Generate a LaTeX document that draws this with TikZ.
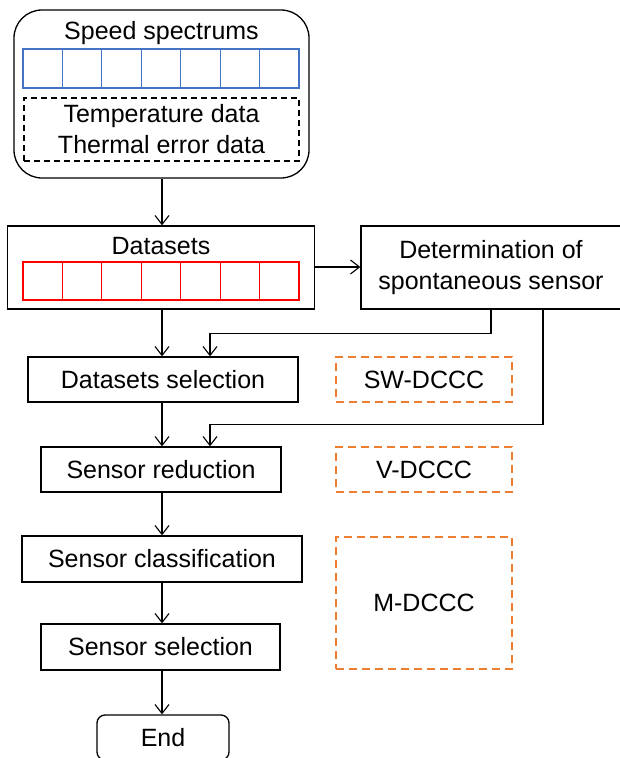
\documentclass[tikz,border=0pt]{standalone}
\usepackage{fontspec}
\setmainfont{Liberation Sans}
\usepackage{tikz}
\usetikzlibrary{arrows.meta,positioning,calc}
\definecolor{cellblue}{HTML}{4472C4}
\definecolor{cellred}{HTML}{FF0000}
\definecolor{dccc}{HTML}{ED7D31}

\begin{document}
\begin{tikzpicture}[x=1pt,y=-1pt,font=\fontsize{25}{31}\selectfont,
  box/.style={draw,line width=1.3pt,inner sep=0pt,align=center},
  rbox/.style={box,rounded corners=#1},
  grp/.style={draw=dccc,dashed,dash pattern=on 8pt off 5pt,line width=1.5pt,inner sep=0pt},
  cell/.style={draw=#1,line width=1.2pt,minimum width=39.43pt,inner sep=0pt},
  arr/.style={-{Straight Barb[length=9pt,width=14pt]},line width=1.1pt}]
\useasboundingbox (0,0) rectangle (620,758);
% input block
\node[rbox=28pt,minimum width=295pt,minimum height=168pt] (spec) at (161.5,94) {};
\node (spectxt) at (161.5,33) {Speed spectrums};
\foreach \i in {0,...,6}
  \node[cell=cellblue,minimum height=39pt] (b\i) at (42.7+39.43*\i,68.5) {};
\node[box,dashed,dash pattern=on 6pt off 4pt,minimum width=275pt,minimum height=63pt] (tdat) at (161.5,129.5)
  {Temperature data\\ Thermal error data};
% datasets
\node[box,minimum width=307pt,minimum height=83pt] (data) at (161,267.5) {};
\node (datatxt) at (161,246) {Datasets};
\foreach \i in {0,...,6}
  \node[cell=cellred,minimum height=38pt] (r\i) at (42.7+39.43*\i,281) {};
\node[box,minimum width=260pt,minimum height=83pt] (det) at (491,267.5) {Determination of\\ spontaneous sensor};
% main chain
\node[box,minimum width=270pt,minimum height=45pt] (dsel) at (163,379.5) {Datasets selection};
\node[box,minimum width=240pt,minimum height=45pt] (red) at (161,469.5) {Sensor reduction};
\node[box,minimum width=280pt,minimum height=46pt] (cls) at (162,559) {Sensor classification};
\node[box,minimum width=239pt,minimum height=46pt] (sel) at (160.5,647) {Sensor selection};
\node[rbox=8pt,minimum width=132pt,minimum height=45pt] (end) at (163,737.5) {End};
% DCCC groups
\node[grp,minimum width=176pt,minimum height=45pt] (sw) at (424,379.5) {SW-DCCC};
\node[grp,minimum width=176pt,minimum height=45pt] (v) at (424,469.5) {V-DCCC};
\node[grp,minimum width=176pt,minimum height=132pt] (m) at (424,603) {M-DCCC};
% connectors
\draw[arr] (spec.south -| 162,0) -- (data.north -| 162,0);
\draw[arr] (data.east |- 0,267) -- (det.west |- 0,267);
\draw[arr] (data.south -| 162,0) -- (dsel.north -| 162,0);
\draw[arr] (det.south) -- ++(0,24) -| ([xshift=47pt]dsel.north);
\draw[arr] ([xshift=52pt]det.south) -- ++(0,115) -| ([xshift=49pt]red.north);
\draw[arr] (dsel.south -| 162,0) -- (red.north -| 162,0);
\draw[arr] (red.south -| 162,0) -- (cls.north -| 162,0);
\draw[arr] (cls.south -| 162,0) -- (sel.north -| 162,0);
\draw[arr] (sel.south -| 162,0) -- (end.north -| 162,0);
\end{tikzpicture}
\end{document}
